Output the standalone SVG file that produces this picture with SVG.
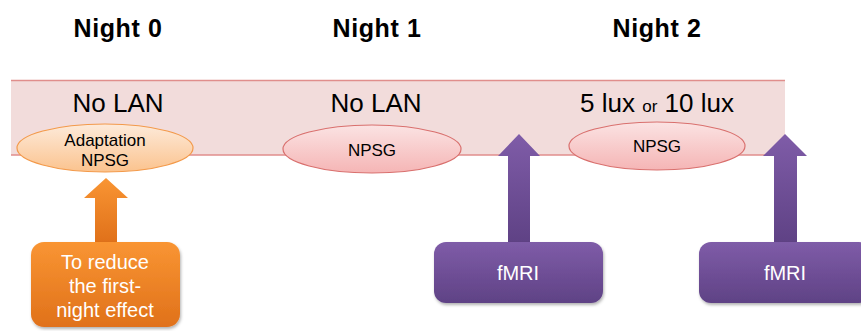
<svg xmlns="http://www.w3.org/2000/svg" width="861" height="331" viewBox="0 0 861 331">
<defs>
<linearGradient id="gOrangeEll" x1="0" y1="0" x2="0" y2="1"><stop offset="0" stop-color="#fdeada"/><stop offset="1" stop-color="#fbc38e"/></linearGradient>
<linearGradient id="gPinkEll" x1="0" y1="0" x2="0" y2="1"><stop offset="0" stop-color="#fbe3e3"/><stop offset="1" stop-color="#f5b5b5"/></linearGradient>
<linearGradient id="gOrange" x1="0" y1="0" x2="0" y2="1"><stop offset="0" stop-color="#f99533"/><stop offset="1" stop-color="#e0711a"/></linearGradient>
<linearGradient id="gPurple" x1="0" y1="0" x2="0" y2="1"><stop offset="0" stop-color="#7f5ca8"/><stop offset="1" stop-color="#5f4285"/></linearGradient>
<filter id="sh" x="-10%" y="-10%" width="125%" height="130%"><feDropShadow dx="1" dy="2" stdDeviation="1.5" flood-color="#000" flood-opacity="0.3"/></filter>
</defs>
<style>
.title{font-family:"Liberation Sans",Arial,sans-serif;font-weight:bold;font-size:25px;letter-spacing:0.6px;fill:#000;text-anchor:middle}
.big{font-family:"Liberation Sans",Arial,sans-serif;font-size:26px;fill:#000;text-anchor:middle}
.small{font-family:"Liberation Sans",Arial,sans-serif;font-size:17px;fill:#000;text-anchor:middle}
.wt{font-family:"Liberation Sans",Arial,sans-serif;font-size:20px;fill:#fff;text-anchor:middle}
.ellO{fill:url(#gOrangeEll);stroke:#f39a4b;stroke-width:1.2}
.ellP{fill:url(#gPinkEll);stroke:#d9706e;stroke-width:1.2}
</style>
<rect width="861" height="331" fill="#fff"/>
<g id="band">
<rect x="11" y="80" width="774" height="75" fill="#f2dcdb"/>
<line x1="11" y1="80.5" x2="785" y2="80.5" stroke="#e08e8c" stroke-width="1.5"/>
<line x1="11" y1="155" x2="785" y2="155" stroke="#e08e8c" stroke-width="1.5"/>
</g>
<g id="titles">
<text class="title" x="118" y="37">Night 0</text>
<text class="title" x="377" y="37">Night 1</text>
<text class="title" x="657" y="37">Night 2</text>
</g>
<g id="labels">
<text class="big" x="118" y="112">No LAN</text>
<text class="big" x="376" y="112">No LAN</text>
<text class="big" x="657" y="112">5 lux <tspan font-size="17">or</tspan> 10 lux</text>
</g>
<g id="connectors">
<polygon points="106,178 128,198 117,198 117,242 95,242 95,198 84,198" fill="url(#gOrange)"/>
<polygon points="519,134 540,156 530,156 530,242 508,242 508,156 498,156" fill="url(#gPurple)"/>
<polygon points="785,134 807,156 797,156 797,242 774,242 774,156 763,156" fill="url(#gPurple)"/>
</g>
<g id="node-adaptation">
<ellipse class="ellO" cx="105" cy="148" rx="88" ry="24"/>
<text class="small" x="105" y="146">Adaptation</text>
<text class="small" x="105" y="166">NPSG</text>
</g>
<g id="node-npsg1">
<ellipse class="ellP" cx="372" cy="149" rx="89" ry="24"/>
<text class="small" x="372" y="156">NPSG</text>
</g>
<g id="node-npsg2">
<ellipse class="ellP" cx="657" cy="146" rx="88" ry="24"/>
<text class="small" x="657" y="152">NPSG</text>
</g>
<g id="node-reduce">
<rect x="31" y="242" width="149" height="85" rx="13" fill="url(#gOrange)" filter="url(#sh)"/>
<text class="wt" x="105" y="269">To reduce</text>
<text class="wt" x="105" y="293">the first-</text>
<text class="wt" x="105" y="317">night effect</text>
</g>
<g id="node-fmri1">
<rect x="434" y="242" width="169" height="61" rx="12" fill="url(#gPurple)" filter="url(#sh)"/>
<text class="wt" x="518" y="280" font-size="21">fMRI</text>
</g>
<g id="node-fmri2">
<rect x="699" y="242" width="172" height="61" rx="12" fill="url(#gPurple)" filter="url(#sh)"/>
<text class="wt" x="785" y="280" font-size="21">fMRI</text>
</g>
</svg>
